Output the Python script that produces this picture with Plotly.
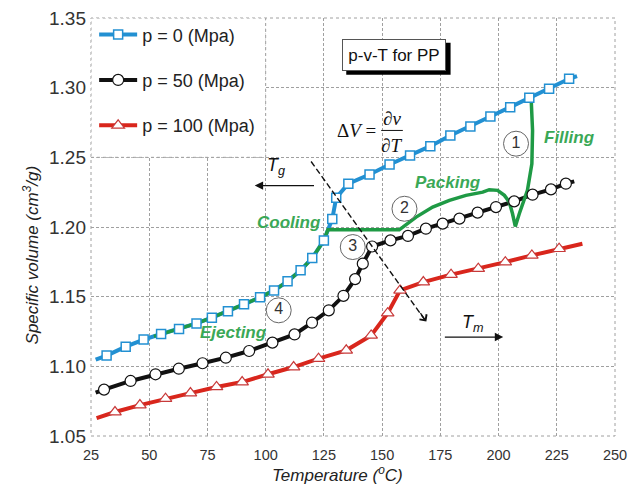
import plotly.graph_objects as go

# ---------------- data ----------------
p0_T = [27.0, 31.7, 39.9, 47.6, 55.1, 62.8, 70.3, 76.9, 83.8, 90.7, 97.6, 103.6, 109.4, 115.0,
        120.0, 125.0, 128.6, 130.3, 135.5, 144.6, 153.2, 162.0, 170.7, 179.3, 187.9, 196.5,
        205.0, 213.2, 221.7, 230.3, 233.7]
p0_v = [1.1048, 1.1077, 1.1141, 1.1192, 1.1232, 1.1268, 1.1308, 1.1349, 1.1395, 1.1445, 1.1495,
        1.1545, 1.1610, 1.1689, 1.1777, 1.1904, 1.2057, 1.2210, 1.2311, 1.2377, 1.2449, 1.2514,
        1.2580, 1.2657, 1.2722, 1.2793, 1.2860, 1.2928, 1.2992, 1.3064, 1.3083]

p50_T = [27.0, 30.6, 42.0, 52.7, 62.7, 72.9, 82.9, 92.9, 102.9, 112.4, 119.9, 127.1, 133.4,
         138.4, 141.7, 145.7, 153.6, 161.1, 168.8, 176.0, 183.2, 191.0, 198.9, 206.7, 214.6,
         222.5, 228.9, 232.5]
p50_v = [1.0811, 1.0833, 1.0895, 1.0943, 1.0983, 1.1022, 1.1062, 1.1110, 1.1170, 1.1229, 1.1313,
         1.1402, 1.1506, 1.1626, 1.1737, 1.1860, 1.1904, 1.1936, 1.1988, 1.2024, 1.2060, 1.2103,
         1.2143, 1.2184, 1.2232, 1.2270, 1.2311, 1.2327]

p100_T = [27.4, 35.3, 46.0, 57.0, 67.7, 78.9, 89.9, 101.0, 112.0, 122.7, 134.6, 145.3, 152.4,
          157.7, 167.7, 179.6, 191.3, 202.9, 214.3, 226.0, 236.0]
p100_v = [1.0629, 1.0672, 1.0722, 1.0768, 1.0808, 1.0852, 1.0887, 1.0943, 1.0995, 1.1055, 1.1115,
          1.1222, 1.1382, 1.1545, 1.1605, 1.1658, 1.1701, 1.1748, 1.1796, 1.1844, 1.1880]

# process path (filling -> packing -> cooling plateau), then follows p=0 curve down (ejecting)
proc_T = [214.0, 214.6, 214.3, 212.4, 208.9, 207.2, 206.0, 204.6, 202.5, 199.6, 196.0, 193.2,
          186.0, 178.9, 171.7, 164.6, 158.9, 157.4, 126.7]
proc_v = [1.2920, 1.2693, 1.2454, 1.2263, 1.2095, 1.2004, 1.2095, 1.2179, 1.2227, 1.2263, 1.2268,
          1.2250, 1.2227, 1.2191, 1.2143, 1.2071, 1.1999, 1.1981, 1.1981]
eject_end_T = 52.0
eject_end_v = 1.1215

series_names = ["p = 0 (Mpa)", "p = 50 (Mpa)", "p = 100 (Mpa)"]
stage_labels = ["Filling", "Packing", "Cooling", "Ejecting"]
stage_numbers = ["1", "2", "3", "4"]

# ---------------- styles ----------------
FONT = "Liberation Sans, Arial, sans-serif"
SERIF = "Liberation Serif, Times New Roman, serif"
BLUE = "#2290d2"
BLACK = "#111111"
RED = "#d9261c"
GREEN = "#1f9a45"
GREEN_TXT = "#3aa856"

# build the green overlay: process path + p=0 points in the cooling/ejecting range
cool = [(t, v) for t, v in zip(p0_T, p0_v) if eject_end_T <= t <= 125.5]
cool.sort(key=lambda tv: -tv[0])
green_T = proc_T + [t for t, _ in cool] + [eject_end_T]
green_v = proc_v + [v for _, v in cool] + [eject_end_v]

fig = go.Figure()

# lines
for T, V, col in [(p100_T, p100_v, RED), (p50_T, p50_v, BLACK), (p0_T, p0_v, BLUE)]:
    fig.add_trace(go.Scatter(x=T, y=V, mode="lines", line=dict(color=col, width=4),
                             showlegend=False, hoverinfo="skip"))
fig.add_trace(go.Scatter(x=green_T, y=green_v, mode="lines", line=dict(color=GREEN, width=3.5),
                         showlegend=False, hoverinfo="skip"))

# markers
mk = {
    "p0": dict(symbol="square", size=9, color="white", line=dict(color=BLUE, width=1.5)),
    "p50": dict(symbol="circle", size=11, color="white", line=dict(color=BLACK, width=1.2)),
    "p100": dict(symbol="triangle-up", size=11, color="white", line=dict(color="#c83a3a", width=1.2)),
}
fig.add_trace(go.Scatter(x=p100_T[1:-1], y=p100_v[1:-1], mode="markers", marker=mk["p100"],
                         showlegend=False))
fig.add_trace(go.Scatter(x=p50_T[1:-1], y=p50_v[1:-1], mode="markers", marker=mk["p50"],
                         showlegend=False))
fig.add_trace(go.Scatter(x=p0_T[1:-1], y=p0_v[1:-1], mode="markers", marker=mk["p0"],
                         showlegend=False))

# legend entries
for i, (name, col, key) in enumerate(zip(series_names, [BLUE, BLACK, RED], ["p0", "p50", "p100"])):
    fig.add_trace(go.Scatter(x=[None], y=[None], mode="lines+markers", name=name,
                             line=dict(color=col, width=4), marker=mk[key],
                             legendgroup=f"g{i}", legendrank=i + 1))

# circled stage numbers
circ_T = [207.5, 159.6, 137.4, 105.6]
circ_v = [1.2598, 1.2131, 1.1856, 1.1402]
fig.add_trace(go.Scatter(x=circ_T, y=circ_v, mode="markers+text", text=stage_numbers,
                         textposition="middle center",
                         textfont=dict(family=FONT, size=16, color="#333"),
                         marker=dict(symbol="circle", size=25, color="rgba(255,255,255,0.85)",
                                     line=dict(color="#666", width=1)),
                         showlegend=False, hoverinfo="skip"))

grid = dict(showgrid=True, gridcolor="#a0a0a0", gridwidth=1, griddash="3px,2px",
            zeroline=False, showline=False, ticks="", automargin=False)

fig.update_layout(
    width=630, height=485,
    margin=dict(l=91, r=15, t=18, b=49),
    plot_bgcolor="white", paper_bgcolor="white",
    font=dict(family=FONT, color="#333"),
    xaxis=dict(range=[25, 250], tick0=25, dtick=25, tickfont=dict(size=14.5, color="#333"),
               ticklabelstandoff=8, **grid),
    yaxis=dict(range=[1.05, 1.35], tick0=1.05, dtick=0.05, tickformat=".2f",
               tickfont=dict(size=19, color="#333"), ticklabelstandoff=4, **grid),
    legend=dict(x=0.006, y=1.004, xanchor="left", yanchor="top", bgcolor="rgba(0,0,0,0)",
                font=dict(family=FONT, size=18, color="#222"), traceorder="grouped",
                tracegroupgap=19, itemwidth=38),
)

# legend box (white, covers the grid) and dotted frame
fig.add_shape(type="rect", x0=25, x1=100, y0=1.25, y1=1.35, layer="between",
              fillcolor="white", line=dict(color="#a0a0a0", width=1, dash="dot"))
fig.add_shape(type="rect", xref="paper", yref="paper", x0=0, x1=1, y0=0, y1=1, layer="between",
              line=dict(color="#a0a0a0", width=1, dash="dot"))

# title box with shadow
fig.add_shape(type="rect", x0=134.6, x1=179.4, y0=1.3093, y1=1.3322, layer="above",
              fillcolor="black", line=dict(width=0))
fig.add_annotation(x=155.2, y=1.3238, text="p-v-T for PP", showarrow=False,
                   font=dict(family=FONT, size=17, color="#111"), bgcolor="white",
                   bordercolor="#555", borderwidth=1, borderpad=2, width=98, height=26)

# formula dV = dv/dT
fig.add_annotation(x=139.2, y=1.2693, text="Δ<i>V</i> =", showarrow=False,
                   font=dict(family=SERIF, size=19, color="#111"))
fig.add_annotation(x=154.2, y=1.2777, text="∂<i>v</i>", showarrow=False,
                   font=dict(family=SERIF, size=19, color="#111"))
fig.add_annotation(x=154.2, y=1.2585, text="∂<i>T</i>", showarrow=False,
                   font=dict(family=SERIF, size=19, color="#111"))
fig.add_shape(type="line", x0=149.6, x1=158.9, y0=1.2693, y1=1.2693, line=dict(color="#111", width=1))

# stage labels
for txt, t, v in zip(stage_labels, [230.6, 178.5, 109.9, 86.3], [1.2645, 1.2322, 1.2035, 1.1242]):
    fig.add_annotation(x=t, y=v, text=f"<b><i>{txt}</i></b>", showarrow=False,
                       font=dict(family=FONT, size=17, color=GREEN_TXT))

# Tg / Tm arrows and labels
fig.add_annotation(x=95.3, y=1.2297, ax=121.4, ay=1.2297, axref="x", ayref="y", text="",
                   showarrow=True, arrowhead=2, arrowsize=1.4, arrowwidth=1.2, arrowcolor="#111")
fig.add_annotation(x=202.0, y=1.1210, ax=176.3, ay=1.1210, axref="x", ayref="y", text="",
                   showarrow=True, arrowhead=2, arrowsize=1.4, arrowwidth=1.2, arrowcolor="#111")
fig.add_annotation(x=104.6, y=1.2437, text="<i>T<sub>g</sub></i>", showarrow=False,
                   font=dict(family=FONT, size=18, color="#111"))
fig.add_annotation(x=188.9, y=1.1306, text="<i>T<sub>m</sub></i>", showarrow=False,
                   font=dict(family=FONT, size=18, color="#111"))

# dashed transition arrow
fig.add_shape(type="line", x0=119.5, y0=1.2470, x1=168.6, y1=1.1328,
              line=dict(color="#111", width=1.4, dash="6px,3px"), layer="above")
fig.add_annotation(x=169.0, y=1.1322, ax=166.0, ay=1.1392, axref="x", ayref="y", text="",
                   showarrow=True, arrowhead=4, arrowsize=1.3, arrowwidth=1.3, arrowcolor="#111")

# axis titles
fig.add_annotation(xref="paper", yref="paper", x=0.4704, y=-0.090, yanchor="middle",
                   text="<i>Temperature (<sup>o</sup>C)</i>", showarrow=False,
                   font=dict(family=FONT, size=17, color="#222"))
fig.add_annotation(xref="paper", yref="paper", x=-0.1393, y=0.432, textangle=-90,
                   text="<i>Specific volume (cm<sup>3</sup>/g)</i>", showarrow=False,
                   font=dict(family=FONT, size=17, color="#222"))

fig.write_html("out.html", config={"displayModeBar": False},
               post_script="document.body.style.margin='0';")
